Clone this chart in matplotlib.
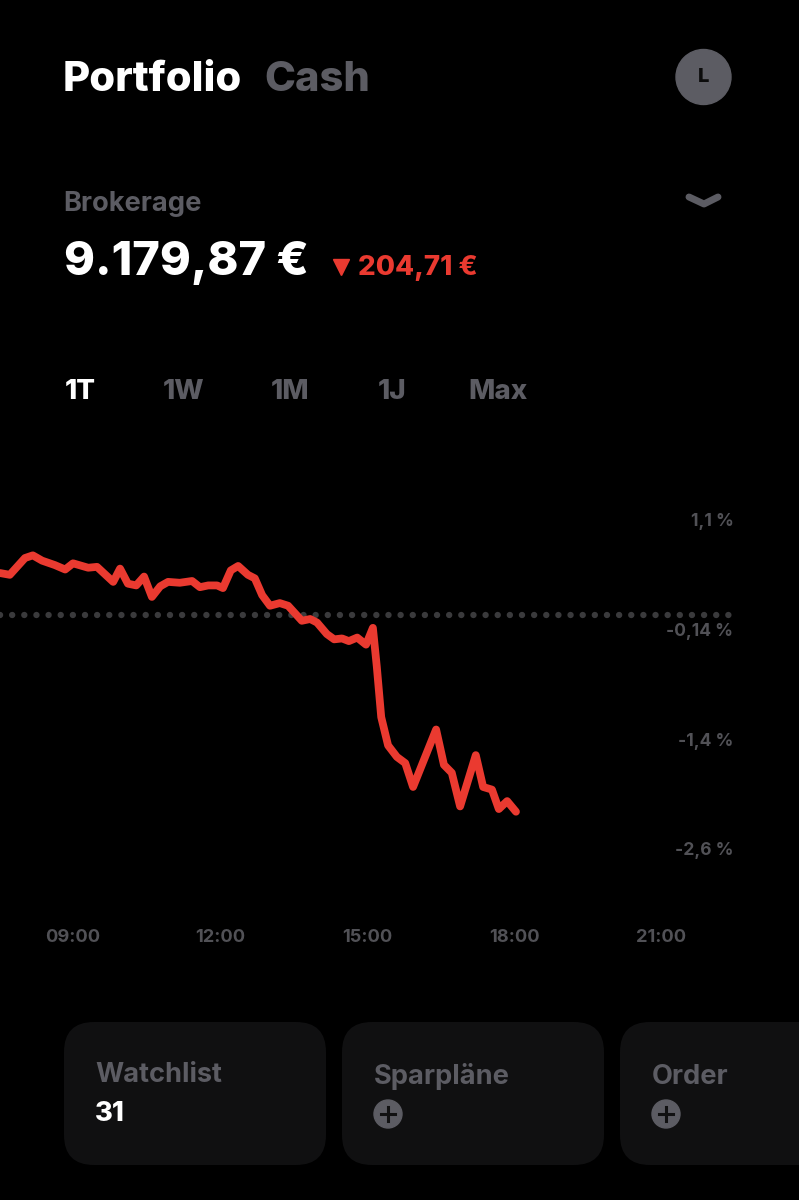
import matplotlib
matplotlib.use('Agg')
import matplotlib.pyplot as plt
from matplotlib.patches import Circle, FancyBboxPatch

plt.rcParams['font.family'] = ['Inter', 'DejaVu Sans']

# chart data: hour of day and percent change
hours = [7.51, 7.71, 8.02, 8.18, 8.37, 8.63, 8.84, 9.00, 9.31, 9.49, 9.82, 9.96, 10.12, 10.29,
         10.45, 10.61, 10.78, 10.94, 11.18, 11.43, 11.59, 11.76, 11.94, 12.06, 12.22, 12.37,
         12.57, 12.71, 12.86, 13.02, 13.22, 13.39, 13.67, 13.84, 13.98, 14.18, 14.33, 14.49,
         14.63, 14.80, 14.98, 15.12, 15.20, 15.29, 15.43, 15.61, 15.78, 15.94, 16.41, 16.57,
         16.73, 16.90, 17.22, 17.37, 17.55, 17.69, 17.86, 18.04]
change = [0.50, 0.48, 0.67, 0.70, 0.64, 0.59, 0.54, 0.61, 0.56, 0.57, 0.40, 0.55, 0.38, 0.36,
          0.46, 0.23, 0.35, 0.40, 0.39, 0.41, 0.34, 0.36, 0.36, 0.33, 0.53, 0.58,
          0.48, 0.44, 0.25, 0.13, 0.16, 0.13, -0.04, -0.02, -0.06, -0.19, -0.25, -0.24,
          -0.27, -0.23, -0.31, -0.12, -0.56, -1.13, -1.45, -1.58, -1.65, -1.92, -1.27, -1.67,
          -1.76, -2.14, -1.56, -1.92, -1.95, -2.17, -2.08, -2.20]
baseline = 0.03

x_ticks = [9, 12, 15, 18, 21]
x_labels = ['09:00', '12:00', '15:00', '18:00', '21:00']
y_ticks = [1.1, -0.14, -1.38, -2.62]
y_labels = ['1,1 %', '-0,14 %', '-1,4 %', '-2,6 %']

ranges = ['1T', '1W', '1M', '1J', 'Max']
range_x = [65, 163, 271, 378, 468]

RED = '#ea3a30'
GREY = '#5c5c63'
TICK = '#515156'
CARD = '#101011'

fig = plt.figure(figsize=(7.99, 12), dpi=100, facecolor='black')

# chart axes, spans the full width from y=440 to y=925 in pixels
ax = fig.add_axes([0, (1200 - 925) / 1200, 1, 485 / 1200])
ax.set_facecolor('black')
ax.set_xlim(7.51, 7.51 + 799 / 49)
ax.set_ylim(1.1 - 405 / 88.4, 1.1 + 80 / 88.4)
for s in ax.spines.values():
    s.set_visible(False)

ax.plot([7.51, 7.51 + 733 / 49], [baseline, baseline], color='#3a3a3c', lw=4.6,
        linestyle=(0, (0.01, 1.89)), dash_capstyle='round')
ax.plot(hours, change, color=RED, lw=5.6, solid_joinstyle='round', solid_capstyle='round')

ax.set_xticks(x_ticks, x_labels, color=TICK, fontsize=13.2, fontweight='bold')
ax.set_yticks(y_ticks, y_labels, color=TICK, fontsize=12.6, fontweight='bold')
ax.tick_params(axis='x', length=0, pad=3)
ax.tick_params(axis='y', length=0, pad=-733.5 * 0.72)

# app interface around the chart, in pixels
ui = fig.add_axes([0, 0, 1, 1], zorder=-1)
ui.set_xlim(0, 799)
ui.set_ylim(1200, 0)
ui.axis('off')
ax.patch.set_alpha(0)

ui.text(62.5, 80, 'Portfolio', color='white', fontsize=30.1, fontweight='heavy', va='center')
ui.text(264.5, 80, 'Cash', color=GREY, fontsize=30, fontweight='heavy', va='center')
ui.add_patch(Circle((703.5, 77), 27.5, color=GREY))
ui.text(703.5, 77.5, 'L', color='#0c0c0c', fontsize=14.5, fontweight='heavy', ha='center', va='center')

ui.text(63.5, 204, 'Brokerage', color=GREY, fontsize=19.6, fontweight='bold', va='center')
ui.plot([689, 704, 718], [197, 204, 197], color=GREY, lw=5, solid_capstyle='round')

ui.text(64, 263, '9.179,87 €', color='white', fontsize=33.8, fontweight='heavy', va='center')
ui.plot([341], [267], marker='v', color=RED, markersize=11.5)
ui.text(358, 268, '204,71 €', color=RED, fontsize=20, fontweight='heavy', va='center')

for i, label in enumerate(ranges):
    ui.text(range_x[i], 392, label, color='white' if i == 0 else GREY, fontsize=20,
            fontweight='heavy', va='center')

for left in [64, 342, 620]:
    ui.add_patch(FancyBboxPatch((left + 30, 1052), 202, 83, boxstyle='round,pad=30,rounding_size=30',
                                fc=CARD, ec='none'))

ui.text(95, 1075, 'Watchlist', color=GREY, fontsize=19.6, fontweight='bold', va='center')
ui.text(95, 1114, '31', color='white', fontsize=19.6, fontweight='heavy', va='center')

for left, label in [(373.5, 'Sparpläne'), (651.5, 'Order')]:
    ui.text(left, 1077, label, color=GREY, fontsize=19.6, fontweight='bold', va='center')
    ui.add_patch(Circle((left + 14.5, 1114), 14, color=GREY))
    ui.plot([left + 7.5, left + 21.5], [1114, 1114], color='#111112', lw=2.2)
    ui.plot([left + 14.5, left + 14.5], [1107, 1121], color='#111112', lw=2.2)

fig.savefig('out.png', dpi=100, facecolor='black')
